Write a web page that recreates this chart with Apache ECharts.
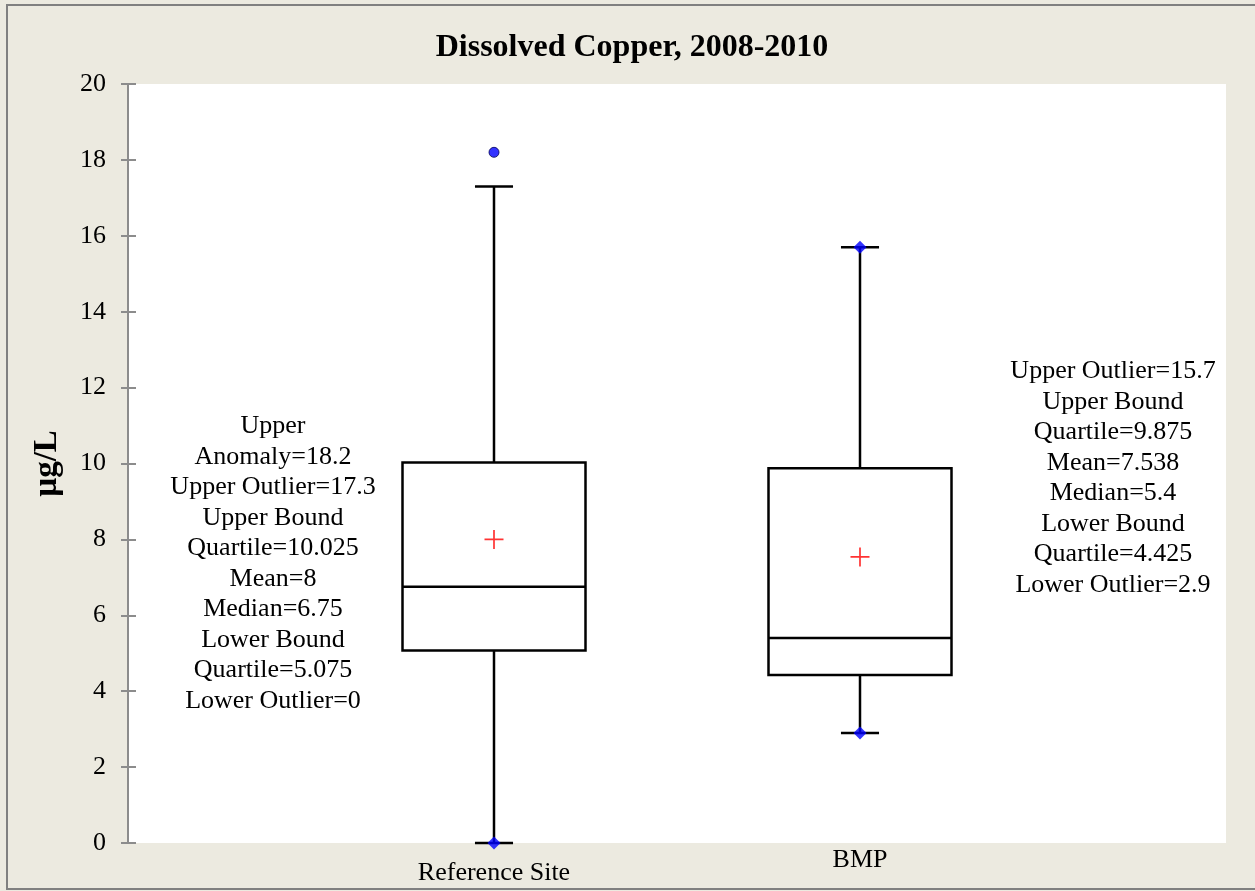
<!DOCTYPE html>
<html>
<head>
<meta charset="utf-8">
<script src="https://cdn.jsdelivr.net/npm/echarts@6/dist/echarts.min.js"></script>
<style>
html,body{margin:0;padding:0;background:#ECEAE0;}
#chart{width:1255px;height:891px;}
</style>
</head>
<body>
<div id="chart"></div>
<script>
// ---- data ----
const categories = ['', 'Reference Site', 'BMP', ''];
// [categoryIndex, lowerWhisker, Q1, median, Q3, upperWhisker]
const boxStats = [
  [1, 0, 5.075, 6.75, 10.025, 17.3],
  [2, 2.9, 4.425, 5.4, 9.875, 15.7]
];
const means = [[1, 8], [2, 7.538]];
const anomalyPoints = [[1, 18.2]];
const whiskerPoints = [[1, 0], [2, 15.7], [2, 2.9]];
const yTicks = { min: 0, max: 20, interval: 2 };
const leftNote = ['Upper', 'Anomaly=18.2', 'Upper Outlier=17.3', 'Upper Bound', 'Quartile=10.025', 'Mean=8', 'Median=6.75', 'Lower Bound', 'Quartile=5.075', 'Lower Outlier=0'];
const rightNote = ['Upper Outlier=15.7', 'Upper Bound', 'Quartile=9.875', 'Mean=7.538', 'Median=5.4', 'Lower Bound', 'Quartile=4.425', 'Lower Outlier=2.9'];

const FONT = '"Liberation Serif","Times New Roman",serif';
const chart = echarts.init(document.getElementById('chart'));

function renderBox(params, api) {
  const x = api.value(0);
  const lo = api.coord([x, api.value(1)]);
  const q1 = api.coord([x, api.value(2)]);
  const med = api.coord([x, api.value(3)]);
  const q3 = api.coord([x, api.value(4)]);
  const hi = api.coord([x, api.value(5)]);
  const band = api.size([1, 0])[0];
  const half = band * 0.25;
  const cap = band * 0.052;
  const cx = lo[0];
  const st = { stroke: '#000', lineWidth: 2.5, fill: null };
  return {
    type: 'group',
    children: [
      { type: 'line', shape: { x1: cx, y1: lo[1], x2: cx, y2: q1[1] }, style: st },
      { type: 'line', shape: { x1: cx, y1: q3[1], x2: cx, y2: hi[1] }, style: st },
      { type: 'line', shape: { x1: cx - cap, y1: lo[1], x2: cx + cap, y2: lo[1] }, style: st },
      { type: 'line', shape: { x1: cx - cap, y1: hi[1], x2: cx + cap, y2: hi[1] }, style: st },
      { type: 'rect', shape: { x: cx - half, y: q3[1], width: half * 2, height: q1[1] - q3[1] }, style: st },
      { type: 'line', shape: { x1: cx - half, y1: med[1], x2: cx + half, y2: med[1] }, style: st }
    ]
  };
}

function noteText(lines, cx, top) {
  return {
    type: 'text',
    x: cx, y: top,
    style: {
      text: lines.join('\n'),
      font: '26px ' + FONT,
      fill: '#000',
      align: 'center',
      verticalAlign: 'top',
      lineHeight: 30.5
    }
  };
}

const option = {
  backgroundColor: '#ECEAE0',
  animation: false,
  title: {
    text: 'Dissolved Copper, 2008-2010',
    left: 627,
    textAlign: 'center',
    top: 27,
    textStyle: { fontFamily: FONT, fontSize: 32, fontWeight: 'bold', color: '#000' }
  },
  grid: { left: 128, right: 29, top: 84, bottom: 48, show: true, backgroundColor: '#fff', borderWidth: 0 },
  xAxis: {
    type: 'category',
    data: categories,
    boundaryGap: false,
    axisLine: { show: false },
    axisTick: { show: false },
    splitLine: { show: false },
    axisLabel: {
      interval: 0,
      margin: 4,
      fontFamily: FONT,
      fontSize: 26,
      color: '#000',
      formatter: function (v) { return v === 'Reference Site' ? '{a|' + v + '}' : v; },
      rich: { a: { fontFamily: FONT, fontSize: 26, color: '#000', padding: [13, 0, 0, 0] } }
    }
  },
  yAxis: [{
    type: 'value',
    min: yTicks.min, max: yTicks.max, interval: yTicks.interval,
    name: 'µg/L',
    nameLocation: 'middle',
    nameGap: 64,
    nameTextStyle: { fontFamily: FONT, fontSize: 33, fontWeight: 'bold', color: '#000' },
    axisLine: { show: true, lineStyle: { color: '#8c8c8c', width: 2 } },
    axisTick: { show: true, length: 7, lineStyle: { color: '#8c8c8c', width: 2 } },
    axisLabel: { fontFamily: FONT, fontSize: 26, color: '#000', margin: 22 },
    splitLine: { show: false }
  }, {
    type: 'value',
    position: 'left',
    min: yTicks.min, max: yTicks.max, interval: yTicks.interval,
    axisLine: { show: false },
    axisTick: { show: true, inside: true, length: 8, lineStyle: { color: '#8c8c8c', width: 2 } },
    axisLabel: { show: false },
    splitLine: { show: false }
  }],
  series: [
    {
      type: 'custom',
      renderItem: renderBox,
      data: boxStats,
      encode: { x: 0, y: [1, 2, 3, 4, 5] },
      z: 2
    },
    {
      type: 'scatter',
      data: means,
      symbol: 'path://M-1,-0.09H1V0.09H-1Z M-0.09,-1H0.09V1H-0.09Z',
      symbolSize: 19,
      itemStyle: { color: '#ff0000' },
      z: 3
    },
    {
      type: 'scatter',
      data: anomalyPoints,
      symbol: 'circle',
      symbolSize: 10,
      itemStyle: { color: '#0000ff', borderColor: '#000055', borderWidth: 1 },
      z: 4
    },
    {
      type: 'scatter',
      data: whiskerPoints,
      symbol: 'diamond',
      symbolSize: 13,
      itemStyle: { color: '#0000ff' },
      z: 4
    }
  ],
  graphic: [
    { type: 'rect', shape: { x: 7, y: 5, width: 1270, height: 884 }, style: { fill: null, stroke: '#808080', lineWidth: 2 }, z: 100 },
    noteText(leftNote, 273, 411),
    noteText(rightNote, 1113, 356)
  ]
};
chart.setOption(option);
</script>
</body>
</html>
